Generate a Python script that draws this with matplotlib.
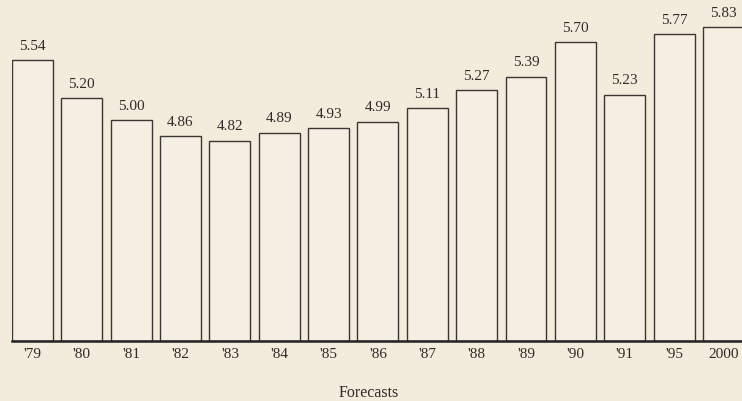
import matplotlib
matplotlib.use("Agg")
import matplotlib.pyplot as plt
import numpy as np

categories = ["'79", "'80", "'81", "'82", "'83", "'84", "'85", "'86", "'87",
              "'88", "'89", "'90", "'91", "'95", "2000"]
values = [5.54, 5.20, 5.00, 4.86, 4.82, 4.89, 4.93, 4.99, 5.11,
          5.27, 5.39, 5.70, 5.23, 5.77, 5.83]
value_labels = ["5.54", "5.20", "5.00", "4.86", "4.82", "4.89", "4.93", "4.99",
                "5.11", "5.27", "5.39", "5.70", "5.23", "5.77", "5.83"]
xlabel_text = "Forecasts"

bg = "#f3ebdc"
edge = "#3a3633"
txt = "#2e2b29"

plt.rcParams['font.family'] = ['Liberation Serif', 'DejaVu Serif']

fig = plt.figure(figsize=(7.42, 4.02), dpi=100, facecolor=bg)
ax = fig.add_axes([12 / 742, 60 / 402, 730 / 742, 342 / 402])
ax.set_facecolor(bg)

x = np.arange(len(categories))
bottom = 3.03
bars = ax.bar(x, np.array(values) - bottom, bottom=bottom, width=0.83,
              facecolor="#f5eee2", edgecolor=edge, linewidth=1.0)

for xi, v, lab in zip(x, values, value_labels):
    ax.annotate(lab, (xi, v), xytext=(0, 6), textcoords="offset points",
                ha="center", va="bottom", fontsize=11, color=txt,
                annotation_clip=False)

ax.set_xlim(-0.415, -0.415 + 730 / 49.35)
ax.set_ylim(bottom, 6.084)
ax.set_xticks(x)
ax.set_xticklabels(categories, fontsize=11, color=txt)
ax.tick_params(axis="x", length=0, pad=4)
ax.set_yticks([])
for s in ["left", "top", "right"]:
    ax.spines[s].set_visible(False)
ax.spines["bottom"].set_color("#222222")
ax.spines["bottom"].set_linewidth(1.8)

fig.text(369 / 742, 1 - 393 / 402, xlabel_text, ha="center", va="center",
         fontsize=11.5, color=txt)

fig.savefig("out.png", dpi=100, facecolor=bg)
